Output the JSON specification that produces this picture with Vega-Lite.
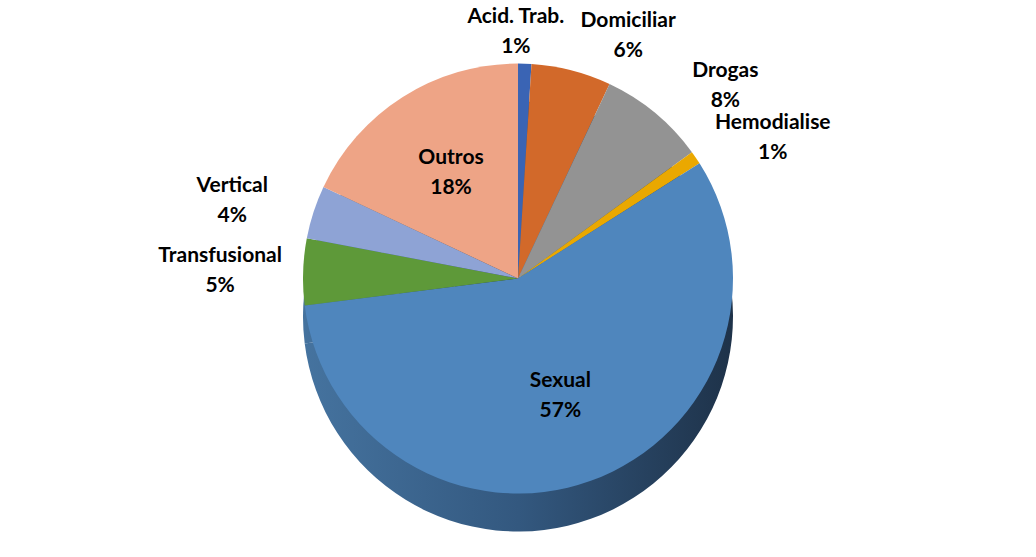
{
  "$schema": "https://vega.github.io/schema/vega-lite/v6.json",
  "width": 1036,
  "height": 557,
  "autosize": {"type": "fit", "contains": "padding"},
  "padding": 0,
  "background": "white",
  "config": {"view": {"stroke": null}},
  "data": {
    "values": [
      {"cause": "Acid. Trab.", "value": 1},
      {"cause": "Domiciliar", "value": 6},
      {"cause": "Drogas", "value": 8},
      {"cause": "Hemodialise", "value": 1},
      {"cause": "Sexual", "value": 57},
      {"cause": "Transfusional", "value": 5},
      {"cause": "Vertical", "value": 4},
      {"cause": "Outros", "value": 18}
    ]
  },
  "transform": [
    {"window": [{"op": "row_number", "as": "idx"}]},
    {"calculate": "datum.cause + '\\n' + datum.value + '%'", "as": "label"},
    {"calculate": "(datum.cause === 'Sexual' || datum.cause === 'Outros') ? datum.label : ''", "as": "inLabel"},
    {"calculate": "datum.cause === 'Acid. Trab.' ? datum.label : ''", "as": "topLabel"},
    {"calculate": "(datum.cause === 'Domiciliar' || datum.cause === 'Drogas' || datum.cause === 'Hemodialise') ? datum.label : ''", "as": "rightLabel"},
    {"calculate": "(datum.cause === 'Transfusional' || datum.cause === 'Vertical') ? datum.label : ''", "as": "leftLabel"}
  ],
  "encoding": {
    "theta": {"field": "value", "type": "quantitative", "stack": true},
    "order": {"field": "idx", "type": "quantitative"}
  },
  "layer": [
    {
      "mark": {
        "type": "arc",
        "radius": 215,
        "yOffset": 38,
        "color": {
          "gradient": "linear",
          "x1": 0, "y1": 0, "x2": 1, "y2": 0,
          "stops": [
            {"offset": 0, "color": "#45739F"},
            {"offset": 0.5, "color": "#33587F"},
            {"offset": 1, "color": "#1E3249"}
          ]
        }
      }
    },
    {
      "mark": {"type": "arc", "radius": 215},
      "encoding": {
        "color": {
          "field": "cause",
          "type": "nominal",
          "legend": null,
          "scale": {
            "domain": ["Acid. Trab.", "Domiciliar", "Drogas", "Hemodialise", "Sexual", "Transfusional", "Vertical", "Outros"],
            "range": ["#3A64B4", "#D2692A", "#939393", "#EAA800", "#4F86BD", "#5E9939", "#8EA3D5", "#EEA486"]
          }
        }
      }
    },
    {
      "mark": {"type": "text", "radius": 125, "dy": -15, "font": "Lato", "fontSize": 21, "fontWeight": "bold", "color": "black", "lineBreak": "\n", "lineHeight": 30},
      "encoding": {"text": {"field": "inLabel"}}
    },
    {
      "mark": {"type": "text", "radius": 250, "dx": -10, "dy": -12, "font": "Lato", "fontSize": 21, "fontWeight": "bold", "color": "black", "lineBreak": "\n", "lineHeight": 30},
      "encoding": {"text": {"field": "topLabel"}}
    },
    {
      "mark": {"type": "text", "radius": 250, "dx": 48, "dy": -15, "font": "Lato", "fontSize": 21, "fontWeight": "bold", "color": "black", "lineBreak": "\n", "lineHeight": 30},
      "encoding": {"text": {"field": "rightLabel"}}
    },
    {
      "mark": {"type": "text", "radius": 250, "dx": -48, "dy": -15, "font": "Lato", "fontSize": 21, "fontWeight": "bold", "color": "black", "lineBreak": "\n", "lineHeight": 30},
      "encoding": {"text": {"field": "leftLabel"}}
    }
  ]
}
